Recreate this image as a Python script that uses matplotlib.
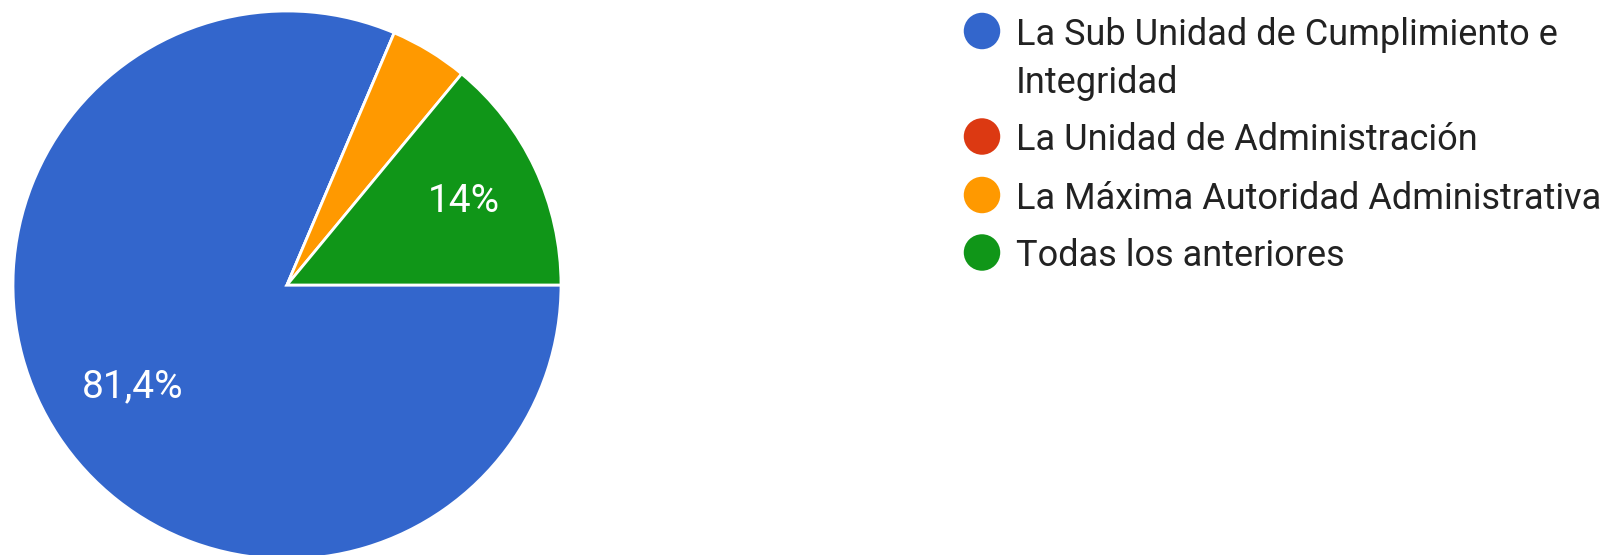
import matplotlib
matplotlib.use("Agg")
import matplotlib.pyplot as plt
import numpy as np

# survey answers (Google Forms style pie)
labels = [
    "La Sub Unidad de Cumplimiento e\nIntegridad",
    "La Unidad de Administración",
    "La Máxima Autoridad Administrativa",
    "Todas los anteriores",
]
values = [81.4, 0.0, 4.6, 14.0]
pct_text = ["81,4%", "", "", "14%"]
colors = ["#3366cc", "#dc3912", "#ff9900", "#109618"]

W, H = 1609, 555
plt.rcParams["font.family"] = ["Roboto", "DejaVu Sans"]

fig = plt.figure(figsize=(W / 100, H / 100), dpi=100)
ax = fig.add_axes([0, 0, 1, 1])

cx, cy, r = 287, H - 285, 274
wedges, _ = ax.pie(
    values, colors=colors, startangle=0, counterclock=False,
    center=(cx, cy), radius=r, frame=True,
    wedgeprops=dict(edgecolor="white", linewidth=2),
)
ax.set_xlim(0, W)
ax.set_ylim(0, H)
ax.axis("off")

# percentage labels inside the big slices
for w, t, frac in zip(wedges, pct_text, [0.675, 0, 0, 0.715]):
    if not t:
        continue
    ang = np.deg2rad((w.theta1 + w.theta2) / 2)
    ax.text(cx + frac * r * np.cos(ang), cy + frac * r * np.sin(ang), t,
            color="white", fontsize=28, ha="center", va="center")

# legend, drawn by hand
row_y = [31, 136.5, 195, 252.5]
line_gap = 48
for lab, col, y in zip(labels, colors, row_y):
    ax.scatter([982], [H - y], s=690, color=col, edgecolors="none", clip_on=False)
    for i, line in enumerate(lab.split("\n")):
        ax.text(1016, H - y - i * line_gap, line, fontsize=26, color="#222222",
                ha="left", va="center_baseline")

fig.savefig("out.png", dpi=100)
